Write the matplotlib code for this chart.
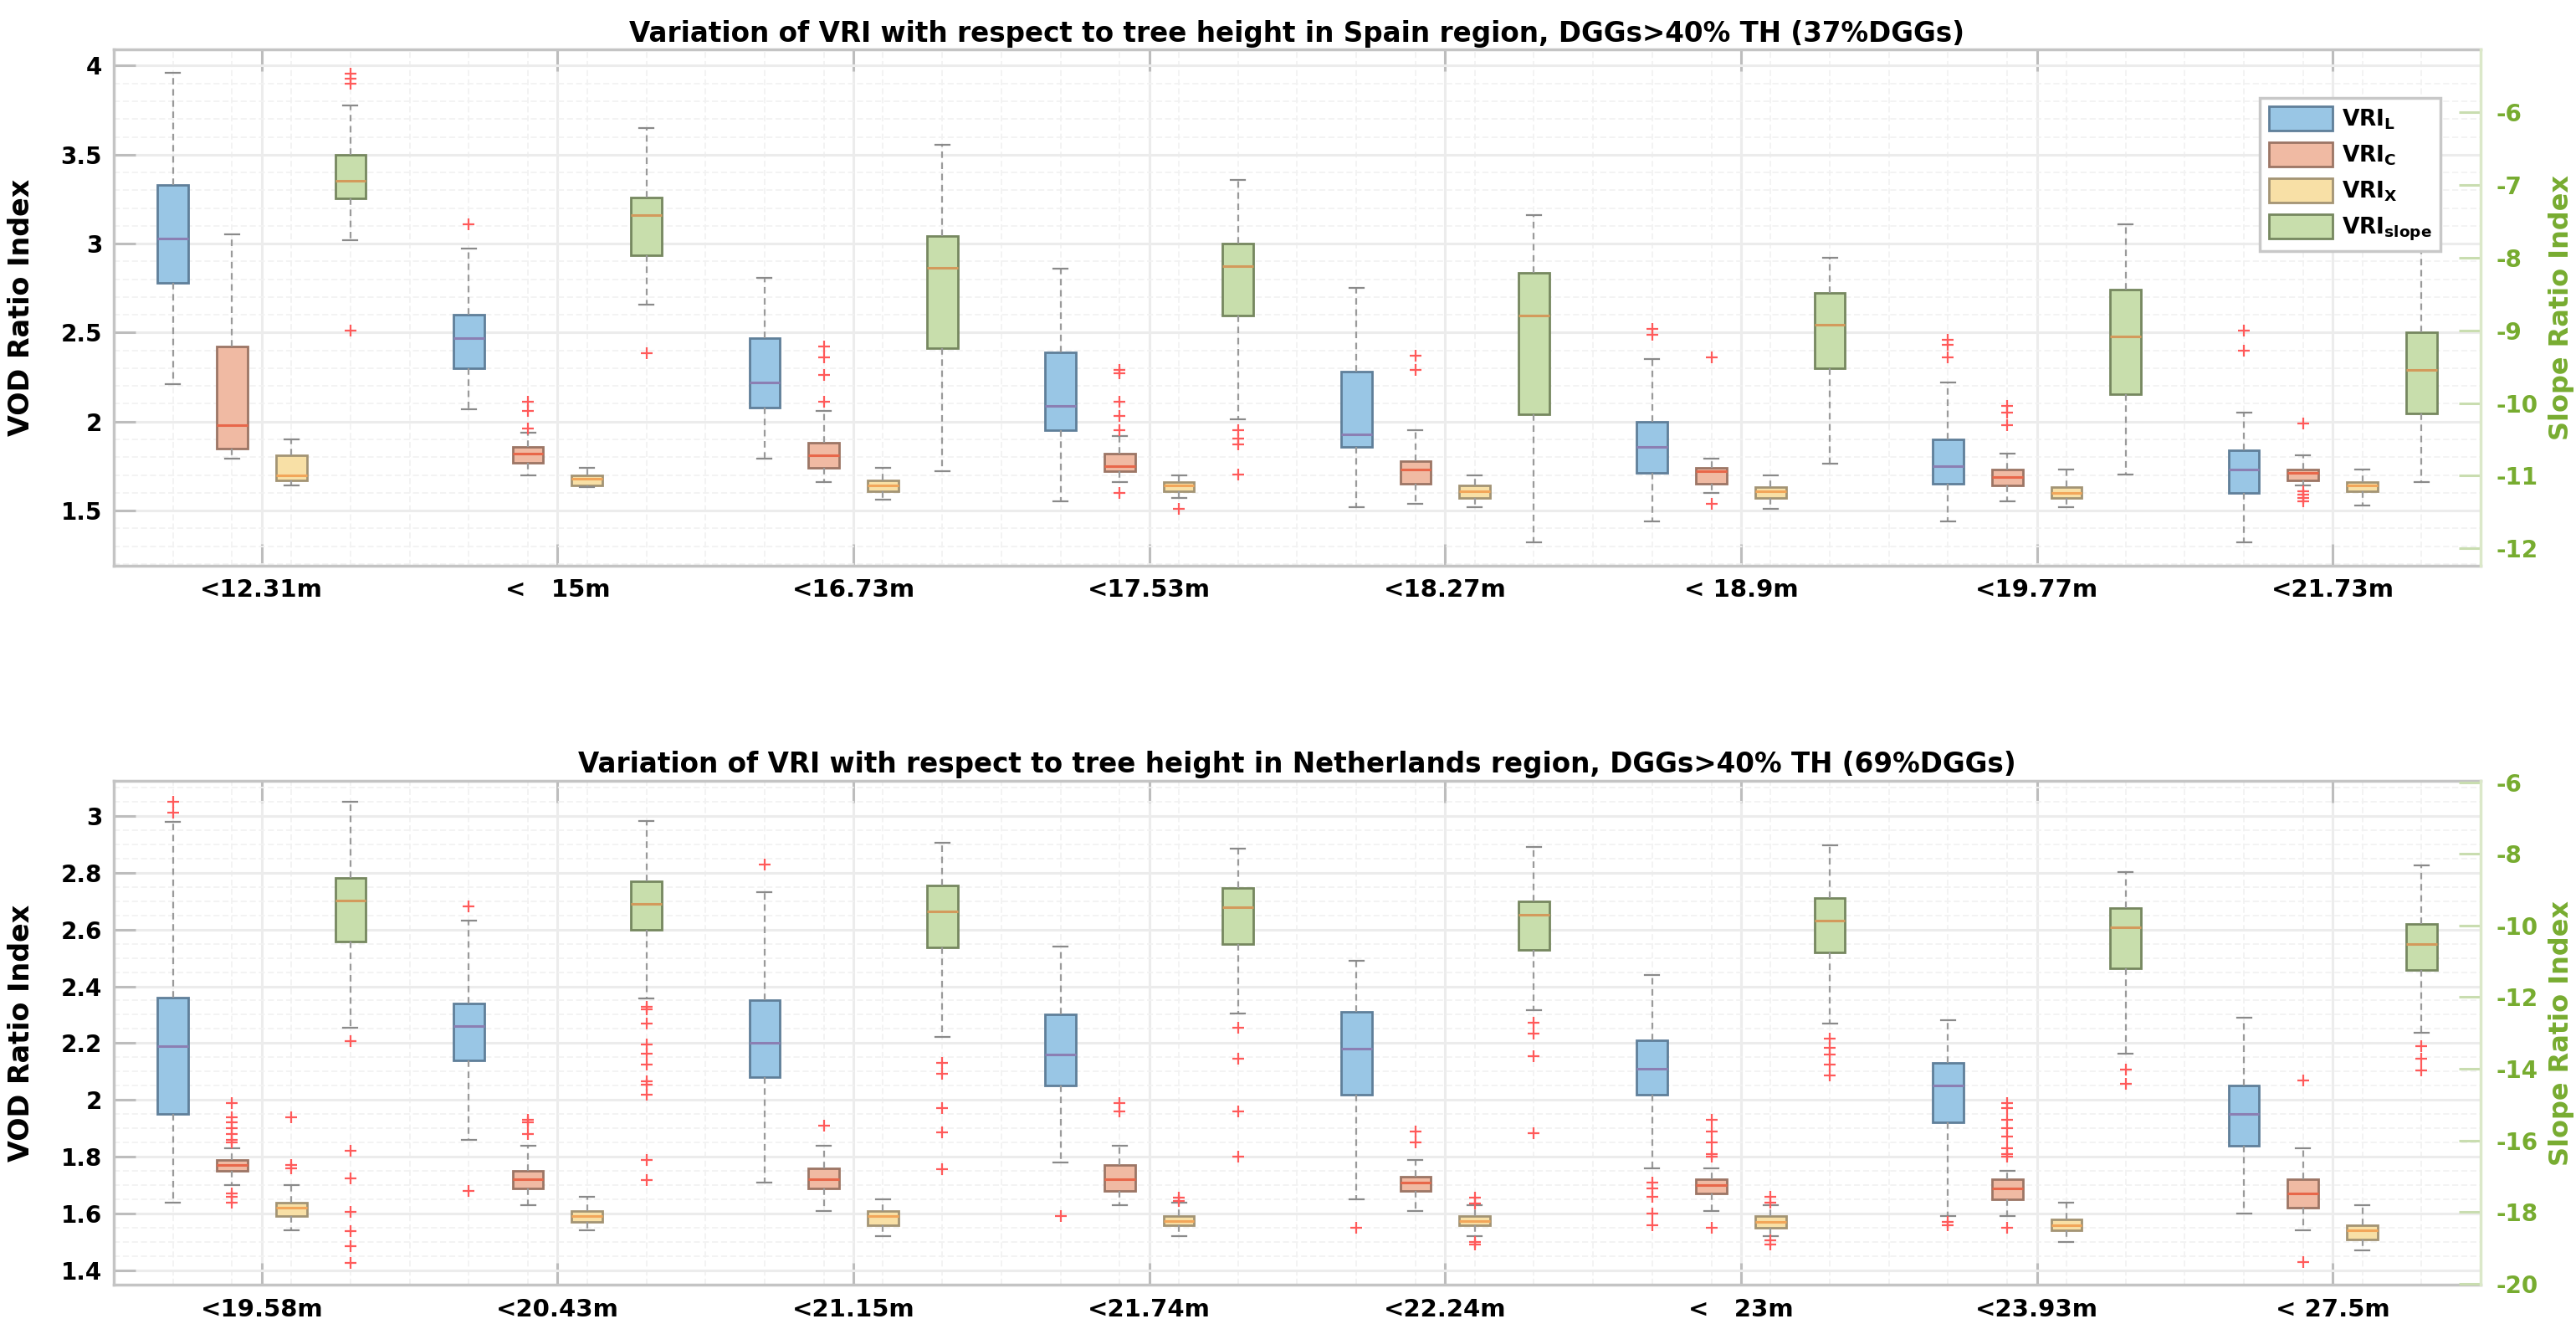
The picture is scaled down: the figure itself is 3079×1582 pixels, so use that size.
"""Box plots of VRI against tree height classes for Spain and the Netherlands."""

import matplotlib.pyplot as plt
from matplotlib.patches import Patch
from matplotlib.ticker import FixedLocator, FuncFormatter, MultipleLocator

# (lower whisker, Q1, median, Q3, upper whisker) per height class
SPAIN_LABELS = ["<12.31m", "<   15m", "<16.73m", "<17.53m", "<18.27m", "< 18.9m", "<19.77m", "<21.73m"]
SPAIN_L = [
    (2.21, 2.78, 3.03, 3.33, 3.96),
    (2.07, 2.30, 2.47, 2.60, 2.97),
    (1.79, 2.08, 2.22, 2.47, 2.81),
    (1.55, 1.95, 2.09, 2.39, 2.86),
    (1.52, 1.86, 1.93, 2.28, 2.75),
    (1.44, 1.71, 1.86, 2.00, 2.35),
    (1.44, 1.65, 1.75, 1.90, 2.22),
    (1.32, 1.60, 1.73, 1.84, 2.05),
]
SPAIN_L_FLIERS = [[], [3.11], [], [], [], [2.52, 2.49], [2.46, 2.43, 2.36], [2.51, 2.40]]
SPAIN_C = [
    (1.79, 1.85, 1.98, 2.42, 3.05),
    (1.70, 1.77, 1.82, 1.86, 1.94),
    (1.66, 1.74, 1.81, 1.88, 2.06),
    (1.66, 1.72, 1.75, 1.82, 1.92),
    (1.54, 1.65, 1.73, 1.78, 1.95),
    (1.60, 1.65, 1.72, 1.74, 1.79),
    (1.55, 1.64, 1.69, 1.73, 1.82),
    (1.64, 1.67, 1.71, 1.73, 1.81),
]
SPAIN_C_FLIERS = [
    [],
    [2.11, 2.06, 1.96],
    [2.42, 2.36, 2.26, 2.11],
    [2.29, 2.27, 2.11, 2.03, 1.95, 1.60],
    [2.37, 2.29],
    [2.36, 1.54],
    [2.09, 2.05, 1.98],
    [1.99, 1.61, 1.59, 1.57, 1.55],
]
SPAIN_X = [
    (1.64, 1.67, 1.70, 1.81, 1.90),
    (1.63, 1.64, 1.68, 1.70, 1.74),
    (1.56, 1.61, 1.64, 1.67, 1.74),
    (1.57, 1.61, 1.64, 1.66, 1.70),
    (1.52, 1.57, 1.61, 1.64, 1.70),
    (1.51, 1.57, 1.61, 1.63, 1.70),
    (1.52, 1.57, 1.60, 1.63, 1.73),
    (1.53, 1.61, 1.64, 1.66, 1.73),
]
SPAIN_X_FLIERS = [[], [], [], [1.51], [], [], [], []]
SPAIN_SLOPE = [
    (-7.76, -7.18, -6.94, -6.58, -5.90),
    (-8.64, -7.97, -7.41, -7.17, -6.22),
    (-10.94, -9.24, -8.14, -7.70, -6.45),
    (-10.22, -8.80, -8.12, -7.81, -6.93),
    (-11.92, -10.16, -8.80, -8.21, -7.41),
    (-10.83, -9.52, -8.92, -8.48, -8.00),
    (-10.98, -9.88, -9.08, -8.44, -7.54),
    (-11.09, -10.14, -9.54, -9.02, -7.70),
]
SPAIN_SLOPE_FLIERS = [[-5.47, -5.53, -5.60, -9.00], [-9.31], [], [-10.37, -10.49, -10.57, -10.98], [], [], [], []]

NL_LABELS = ["<19.58m", "<20.43m", "<21.15m", "<21.74m", "<22.24m", "<   23m", "<23.93m", "< 27.5m"]
NL_L = [
    (1.64, 1.95, 2.19, 2.36, 2.98),
    (1.86, 2.14, 2.26, 2.34, 2.63),
    (1.71, 2.08, 2.20, 2.35, 2.73),
    (1.78, 2.05, 2.16, 2.30, 2.54),
    (1.65, 2.02, 2.18, 2.31, 2.49),
    (1.76, 2.02, 2.11, 2.21, 2.44),
    (1.59, 1.92, 2.05, 2.13, 2.28),
    (1.60, 1.84, 1.95, 2.05, 2.29),
]
NL_L_FLIERS = [[3.05, 3.01], [2.68, 1.68], [2.83], [1.59], [1.55], [1.71, 1.69, 1.66, 1.60, 1.56], [1.57, 1.56], []]
NL_C = [
    (1.70, 1.75, 1.77, 1.79, 1.83),
    (1.63, 1.69, 1.72, 1.75, 1.84),
    (1.61, 1.69, 1.72, 1.76, 1.84),
    (1.63, 1.68, 1.72, 1.77, 1.84),
    (1.61, 1.68, 1.71, 1.73, 1.79),
    (1.61, 1.67, 1.70, 1.72, 1.76),
    (1.59, 1.65, 1.69, 1.72, 1.75),
    (1.54, 1.62, 1.67, 1.72, 1.83),
]
NL_C_FLIERS = [
    [1.99, 1.94, 1.92, 1.90, 1.88, 1.86, 1.85, 1.67, 1.66, 1.64],
    [1.93, 1.92, 1.88],
    [1.91],
    [1.99, 1.96],
    [1.89, 1.85],
    [1.93, 1.89, 1.85, 1.81, 1.80, 1.55],
    [1.99, 1.97, 1.93, 1.90, 1.87, 1.83, 1.81, 1.80, 1.55],
    [2.07, 1.43],
]
NL_X = [
    (1.54, 1.59, 1.62, 1.64, 1.70),
    (1.54, 1.57, 1.59, 1.61, 1.66),
    (1.52, 1.56, 1.59, 1.61, 1.65),
    (1.52, 1.56, 1.575, 1.59, 1.64),
    (1.52, 1.56, 1.575, 1.59, 1.63),
    (1.52, 1.55, 1.57, 1.59, 1.63),
    (1.50, 1.54, 1.56, 1.58, 1.64),
    (1.47, 1.51, 1.54, 1.56, 1.63),
]
NL_X_FLIERS = [[1.94, 1.77, 1.76], [], [], [1.655, 1.645], [1.655, 1.635, 1.50, 1.49], [1.66, 1.64, 1.505, 1.49], [], []]
NL_SLOPE = [
    (-12.86, -10.44, -9.30, -8.68, -6.53),
    (-12.03, -10.11, -9.39, -8.77, -7.09),
    (-13.11, -10.60, -9.60, -8.89, -7.69),
    (-12.45, -10.51, -9.48, -8.95, -7.84),
    (-12.37, -10.67, -9.70, -9.33, -7.80),
    (-12.74, -10.75, -9.86, -9.23, -7.75),
    (-13.57, -11.19, -10.05, -9.51, -8.50),
    (-12.99, -11.23, -10.51, -9.95, -8.31),
]
NL_SLOPE_FLIERS = [
    [-13.24, -16.30, -17.06, -17.99, -18.54, -18.95, -19.42],
    [-12.28, -12.33, -12.74, -13.32, -13.57, -13.89, -14.35, -14.44, -14.73, -16.56, -17.12],
    [-13.83, -14.14, -15.10, -15.78, -16.80],
    [-12.86, -13.73, -15.20, -16.46],
    [-12.71, -13.02, -13.65, -15.81],
    [-13.15, -13.42, -13.61, -13.89, -14.19],
    [-14.02, -14.41],
    [-13.36, -13.73, -14.04],
]

SERIES_NAMES = [r"$\mathbf{VRI_{L}}$", r"$\mathbf{VRI_{C}}$", r"$\mathbf{VRI_{X}}$", r"$\mathbf{VRI_{slope}}$"]

FACES = ["#99c6e5", "#f0baa3", "#f8e0a6", "#c8deac"]
EDGES = ["#5f7f99", "#9c7565", "#a39474", "#76875f"]
MEDIANS = ["#8b7fb3", "#e8674a", "#f2a65a", "#d39a5c"]
GREEN = "#77ac30"


def draw_series(ax, stats, fliers, k):
    data = [
        dict(whislo=s[0], q1=s[1], med=s[2], q3=s[3], whishi=s[4], fliers=f)
        for s, f in zip(stats, fliers)
    ]
    pos = [5 * g + k + 1 for g in range(len(stats))]
    ax.bxp(
        data,
        positions=pos,
        widths=0.52,
        capwidths=0.24,
        patch_artist=True,
        showfliers=True,
        manage_ticks=False,
        boxprops=dict(facecolor=FACES[k], edgecolor=EDGES[k], linewidth=2),
        medianprops=dict(color=MEDIANS[k], linewidth=2.2),
        whiskerprops=dict(color="#9a9a9a", linewidth=1.6, linestyle=(0, (3.5, 2.5))),
        capprops=dict(color="#8a8a8a", linewidth=1.6),
        flierprops=dict(
            marker="+", markeredgecolor="#ff5a5a", markersize=10,
            markeredgewidth=1.6, linestyle="none",
        ),
    )


def setup_panel(fig, rect, title, labels, series, fliers, left_lim, left_step, right_lim, right_step):
    ax = fig.add_axes(rect)
    ax2 = ax.twinx()

    for k in range(3):
        draw_series(ax, series[k], fliers[k], k)
    draw_series(ax2, series[3], fliers[3], 3)

    ax.set_xlim(0, 40)
    ax.set_ylim(*left_lim)
    ax2.set_ylim(*right_lim)

    fmt = FuncFormatter(lambda v, p: "%g" % round(v, 3))
    ax.xaxis.set_major_locator(FixedLocator([5 * g + 2.5 for g in range(len(labels))]))
    ax.xaxis.set_minor_locator(MultipleLocator(1))
    ax.set_xticklabels(labels)
    ax.yaxis.set_major_locator(MultipleLocator(left_step))
    ax.yaxis.set_minor_locator(MultipleLocator(left_step / 5 if left_step == 0.5 else left_step / 4))
    ax.yaxis.set_major_formatter(fmt)
    ax2.yaxis.set_major_locator(MultipleLocator(right_step))
    ax2.yaxis.set_major_formatter(fmt)

    ax.set_axisbelow(True)
    ax.grid(which="major", color="#ececec", linewidth=2.2)
    ax.grid(which="minor", color="#f2f2f2", linewidth=1.3, linestyle=(0, (4, 2)))

    ax.tick_params(axis="x", which="major", direction="in", length=19, width=2.2,
                   color="#bdbdbd", top=True, pad=11, labelsize=21)
    ax.tick_params(axis="y", which="major", direction="in", length=19, width=2.2,
                   color="#bdbdbd", pad=10, labelsize=20)
    ax.tick_params(which="minor", length=0)
    ax2.tick_params(axis="y", direction="in", length=19, width=2.2, color="#c9ddb0",
                    labelcolor=GREEN, pad=13, labelsize=20)
    for lab in ax.get_xticklabels() + ax.get_yticklabels() + ax2.get_yticklabels():
        lab.set_fontweight("bold")

    for side in ["left", "top", "bottom"]:
        ax.spines[side].set_color("#c4c4c4")
        ax.spines[side].set_linewidth(2.5)
        ax2.spines[side].set_visible(False)
    ax.spines["right"].set_visible(False)
    ax2.spines["right"].set_color("#dbe8c9")
    ax2.spines["right"].set_linewidth(2.5)

    ax.set_ylabel("VOD Ratio Index", fontsize=24, fontweight="bold")
    ax.yaxis.set_label_coords(-0.0332, 0.5)
    ax2.set_ylabel("Slope Ratio Index", fontsize=23, fontweight="bold", color=GREEN)
    ax2.yaxis.set_label_coords(1.0285, 0.5)
    ax.set_title(title, fontsize=23.5, fontweight="bold", pad=7)
    return ax, ax2


def main():
    fig = plt.figure(figsize=(30.79, 15.82), dpi=100)
    fig.patch.set_facecolor("white")

    ax, ax2 = setup_panel(
        fig, [0.04417, 0.5727, 0.9188, 0.3898],
        "Variation of VRI with respect to tree height in Spain region, DGGs>40% TH (37%DGGs)",
        SPAIN_LABELS,
        [SPAIN_L, SPAIN_C, SPAIN_X, SPAIN_SLOPE],
        [SPAIN_L_FLIERS, SPAIN_C_FLIERS, SPAIN_X_FLIERS, SPAIN_SLOPE_FLIERS],
        (1.19, 4.09), 0.5, (-12.24, -5.135), 1,
    )
    setup_panel(
        fig, [0.04417, 0.02952, 0.9188, 0.3809],
        "Variation of VRI with respect to tree height in Netherlands region, DGGs>40% TH (69%DGGs)",
        NL_LABELS,
        [NL_L, NL_C, NL_X, NL_SLOPE],
        [NL_L_FLIERS, NL_C_FLIERS, NL_X_FLIERS, NL_SLOPE_FLIERS],
        (1.349, 3.124), 0.2, (-20.04, -5.95), 2,
    )

    # Legend on the top panel
    handles = [
        Patch(facecolor=FACES[k], edgecolor=EDGES[k], linewidth=2, label=SERIES_NAMES[k])
        for k in range(4)
    ]
    leg = ax2.legend(
        handles=handles, loc="upper right", bbox_to_anchor=(0.983, 0.907),
        borderaxespad=0, fontsize=19, handlelength=2.9, handleheight=1.3,
        labelspacing=0.5, borderpad=0.4, handletextpad=0.4,
        fancybox=False, framealpha=1,
    )
    leg.get_frame().set_edgecolor("#c8c8c8")
    leg.get_frame().set_linewidth(2.5)

    fig.savefig("out.png", dpi=100)


if __name__ == "__main__":
    main()
